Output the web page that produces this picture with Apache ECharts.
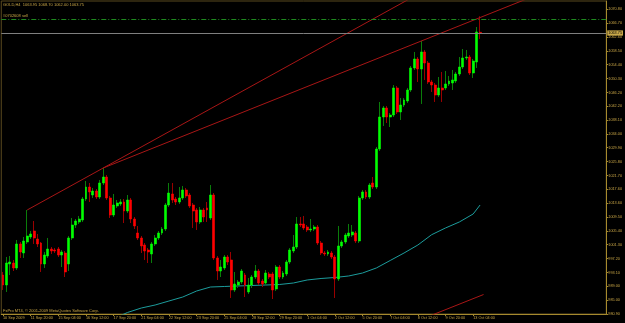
<!DOCTYPE html>
<html><head><meta charset="utf-8">
<script src="https://cdn.jsdelivr.net/npm/echarts@6/dist/echarts.min.js"></script>
<style>html,body{margin:0;padding:0;background:#000;}#c{width:625px;height:323px;}</style>
</head><body><div id="c"></div>
<script>
// ---- data (GOLD, H4) ----
const opens = [992.36,989.41,995.61,995.90,994.43,1001.51,998.85,1002.10,1003.57,1005.34,
1002.98,1001.80,995.61,997.97,1000.03,999.74,1000.03,998.26,998.85,995.61,
1003.28,1007.11,1008.00,1008.59,1014.78,1018.32,1015.96,1017.14,1015.37,1019.50,
1021.27,1015.08,1010.06,1012.72,1013.31,1013.90,1011.24,1014.49,1008.88,1004.75,
1003.28,1001.21,999.74,998.56,1001.51,1003.28,1004.75,1005.93,1013.01,1016.26,
1014.78,1013.90,1015.08,1017.44,1015.96,1013.01,1011.54,1008.00,1011.54,1012.13,
1009.18,1015.96,997.38,993.54,994.43,997.67,996.79,987.94,989.41,990.30,
992.36,987.35,989.41,991.77,993.54,990.59,990.00,992.66,992.66,988.23,
994.72,991.77,992.66,996.20,999.44,1000.62,1007.41,1007.41,1006.52,1005.64,
1005.93,1006.52,1001.80,998.85,998.56,998.85,997.67,991.18,1000.92,1002.10,
1003.87,1004.16,1004.75,1002.39,1015.08,1016.85,1015.37,1019.50,1018.32,1029.53,
1038.97,1041.63,1038.97,1039.56,1047.53,1040.45,1042.51,1043.69,1046.94,1053.43,
1056.08,1053.13,1058.15,1054.90,1049.30,1048.41,1045.46,1047.53,1047.53,1048.71,
1049.00,1049.59,1051.66,1053.72,1056.38,1056.67,1051.95,1055.20,1063.95];
const highs = [993.25,997.67,997.97,996.79,1002.69,1002.10,1003.57,1011.54,1005.34,1008.29,
1004.46,1002.10,999.15,1003.28,1000.62,1000.33,1000.62,999.74,999.44,1003.87,
1009.18,1008.88,1009.77,1015.37,1020.09,1019.50,1018.03,1017.73,1020.39,1023.93,
1021.86,1015.67,1016.26,1014.49,1014.78,1014.78,1015.96,1015.08,1009.47,1006.82,
1003.87,1001.80,1000.33,1002.10,1004.16,1005.34,1006.52,1013.60,1019.50,1019.50,
1015.37,1018.32,1018.62,1018.03,1016.55,1013.60,1012.13,1012.42,1012.13,1013.90,
1018.91,1016.55,997.97,996.79,998.26,998.26,999.15,993.25,990.89,994.13,
992.95,991.48,992.36,995.31,994.13,991.18,993.84,993.25,993.25,995.31,
995.31,993.54,996.79,1000.33,1004.16,1009.47,1009.47,1009.77,1007.11,1008.88,
1007.11,1007.11,1002.39,999.44,999.74,999.44,998.26,1006.82,1002.69,1004.75,
1007.41,1007.11,1005.34,1015.67,1017.44,1017.44,1019.50,1021.27,1030.12,1043.40,
1042.22,1042.22,1040.15,1048.41,1048.12,1044.58,1044.58,1047.53,1054.02,1058.15,
1056.67,1061.39,1058.74,1055.49,1049.89,1049.00,1050.77,1052.25,1052.54,1051.07,
1052.84,1052.25,1056.67,1059.03,1058.74,1057.26,1056.08,1065.52,1068.70];
const lows = [987.94,987.35,992.36,993.54,993.84,997.38,997.38,1001.51,1002.98,1001.51,
1000.62,993.25,994.43,997.38,998.56,998.85,997.67,994.72,991.77,993.54,
1002.69,1006.23,1007.41,1008.00,1014.19,1013.90,1015.08,1014.78,1014.78,1018.91,
1014.49,1009.18,1009.47,1012.13,1012.72,1007.70,1010.65,1007.70,1005.93,1002.69,
998.85,996.79,995.90,995.90,1000.92,1002.69,1004.16,1005.34,1012.42,1013.60,
1013.01,1013.31,1014.49,1015.08,1012.13,1006.23,1005.64,1007.41,1008.00,1008.00,
1008.59,996.79,990.89,991.77,993.84,995.31,985.58,987.35,988.53,989.71,
985.87,986.76,988.53,991.18,989.41,988.82,989.41,991.18,985.28,987.64,
991.18,991.18,992.07,995.61,998.85,1000.03,1006.52,1005.64,1005.05,1005.05,
1005.34,1001.21,998.26,997.97,997.97,997.08,985.58,990.59,1000.33,1001.51,
1003.28,1003.57,1001.80,1001.80,1014.49,1014.78,1014.78,1017.73,1017.73,1028.94,
1036.32,1037.20,1036.02,1038.97,1039.86,1038.09,1041.92,1043.10,1046.35,1052.84,
1049.30,1042.81,1049.89,1048.71,1046.35,1043.40,1044.87,1043.40,1046.94,1048.12,
1046.94,1049.00,1051.07,1053.13,1055.79,1051.36,1050.48,1053.43,1062.00];
const closes = [989.41,995.90,996.20,994.43,1001.51,999.15,1002.39,1003.87,1004.46,1003.28,
1001.51,995.61,998.26,1000.03,999.44,999.44,998.26,999.15,993.25,1003.28,
1007.11,1008.29,1008.88,1014.78,1018.32,1016.85,1017.14,1015.37,1019.50,1021.27,
1015.08,1010.06,1013.01,1013.60,1013.90,1011.24,1014.49,1008.88,1006.82,1003.28,
1000.92,999.44,999.15,1001.51,1003.28,1004.75,1005.93,1013.01,1016.55,1014.49,
1013.90,1015.08,1017.44,1015.67,1012.72,1011.24,1008.00,1011.54,1009.47,1011.54,
1015.96,997.38,993.54,994.72,997.67,996.20,987.94,989.71,990.30,993.54,
989.41,989.41,991.77,993.54,990.00,989.71,992.95,991.77,987.94,994.72,
991.77,992.95,996.20,999.74,1000.62,1007.41,1007.11,1006.23,1005.64,1005.93,
1006.52,1001.80,998.85,998.56,999.15,997.67,991.18,1000.92,1002.10,1004.16,
1004.75,1005.05,1002.39,1015.08,1016.85,1015.37,1018.91,1018.32,1029.53,1038.97,
1041.63,1038.97,1039.56,1047.53,1040.45,1042.51,1043.99,1046.94,1053.43,1056.08,
1053.13,1058.15,1054.90,1049.30,1048.41,1045.46,1047.53,1046.94,1048.71,1049.59,
1049.89,1051.66,1053.72,1056.38,1056.67,1051.95,1055.49,1064.05,1063.75];

// moving average line, points [bar index, price]
const maPoints = [[32,979.5],[36,981.3],[40,982.62],[44,983.51],[48,984.69],[52,985.87],
[56,987.64],[60,988.82],[64,988.97],[68,989.12],[72,989.26],[76,989.41],[80,989.56],
[84,990.0],[88,990.89],[92,991.33],[96,991.62],[100,992.07],[104,992.95],[108,994.43],
[112,996.64],[116,998.85],[120,1001.21],[124,1004.25],[128,1006.23],[132,1008.0],
[136,1010.36],[138,1013.01]];

// drawn trend lines [bar index, price]
const trendLine1 = [[7,1011.54],[120,1075.18]];
const trendLine2 = [[29,1023.93],[160,1077.27]];
const channelLine = [[122,979.7],[139,986.6]];

const xTickLabels = ['10 Sep 2009','11 Sep 20:00','15 Sep 04:00','16 Sep 12:00','17 Sep 20:00',
'21 Sep 04:00','22 Sep 12:00','23 Sep 20:00','25 Sep 04:00','28 Sep 12:00','29 Sep 20:00',
'1 Oct 04:00','2 Oct 12:00','5 Oct 20:00','7 Oct 04:00','8 Oct 12:00','9 Oct 20:00','13 Oct 04:00'];
const yTickValues = [980.90,985.00,989.00,993.10,997.20,1001.30,1005.40,1009.50,1013.60,1017.60,
1021.70,1025.80,1029.90,1034.00,1038.10,1042.20,1046.20,1050.30,1054.40,1058.50,1062.60,1066.70,1070.80];

const bidPrice = 1063.75;
const orderPrice = 1067.88;
const headerText = 'GOLD,H4  1063.95 1068.70 1062.00 1063.75';
const orderText = '#0702608 sell';
const copyrightText = 'FxPro MT4, \u00a9 2001-2009 MetaQuotes Software Corp.';

const SLOTS = 175;
const LABEL_EVERY = 8;
const Y_MIN = 980.855, Y_MAX = 1073.19;

// ---- build ----
const categories = Array.from({length: SLOTS}, (_, i) => String(i));
const wickData = opens.map((o, i) => [o, closes[i], lows[i], highs[i]]);
const bodyData = opens.map((o, i) => [o, closes[i], Math.min(o, closes[i]), Math.max(o, closes[i])]);
const showLabel = (i) => i % LABEL_EVERY === 0 && (i / LABEL_EVERY) < xTickLabels.length;

const GOLD = '#c9a646';
const FONT = '"Liberation Sans", Arial, sans-serif';

const chart = echarts.init(document.getElementById('c'), null, {renderer: 'canvas'});
chart.setOption({
  backgroundColor: '#000000',
  animation: false,
  grid: {left: 1, right: 17, top: 1, bottom: 9, show: true, borderColor: '#5a4a1e', borderWidth: 1},
  xAxis: {
    type: 'category', data: categories, boundaryGap: true,
    axisLine: {show: true, lineStyle: {color: '#a68a2e', width: 1}},
    axisTick: {show: true, interval: (i) => showLabel(i), alignWithLabel: true, length: 2, lineStyle: {color: '#a68a2e'}},
    axisLabel: {
      show: true, interval: (i) => showLabel(i), align: 'left', margin: 2,
      fontSize: 3.8, fontFamily: FONT, color: GOLD,
      formatter: (v, i) => xTickLabels[i / LABEL_EVERY] || ''
    },
    splitLine: {show: false}
  },
  yAxis: {
    type: 'value', position: 'right', min: Y_MIN, max: Y_MAX, scale: true,
    axisLine: {show: true, lineStyle: {color: '#a68a2e', width: 1}},
    axisTick: {show: true, customValues: yTickValues, length: 2, lineStyle: {color: '#a68a2e'}},
    axisLabel: {show: true, customValues: yTickValues, margin: 2, fontSize: 3.8, fontFamily: FONT, color: GOLD,
      formatter: (v) => v.toFixed(2)},
    splitLine: {show: false}
  },
  graphic: [
    {type: 'text', left: 3, top: 2.5, z: 100, style: {text: headerText, fill: GOLD, font: '4px ' + FONT}},
    {type: 'text', left: 3, top: 13.5, z: 100, style: {text: orderText, fill: GOLD, font: '4px ' + FONT}},
    {type: 'text', left: 3, top: 308.5, z: 100, style: {text: copyrightText, fill: GOLD, font: '4px ' + FONT}}
  ],
  series: [
    {
      name: 'ma', type: 'line', data: maPoints, symbol: 'none', clip: true,
      lineStyle: {color: '#1c9c9c', width: 1}, z: 1
    },
    {
      name: 'levels', type: 'line', data: [], z: 1,
      markLine: {
        silent: true, symbol: ['none', 'none'], animation: false,
        lineStyle: {color: '#7f7f7f', type: 'solid', width: 1, opacity: 1},
        data: [
          {yAxis: orderPrice, lineStyle: {color: '#1f8a1f', type: [5, 2, 1, 2], width: 1}, label: {show: false}},
          {yAxis: bidPrice, lineStyle: {color: '#7f7f7f', type: 'solid', width: 1},
           label: {show: true, position: 'end', distance: 1, formatter: bidPrice.toFixed(2),
                   backgroundColor: '#c8a84a', color: '#000', fontSize: 3.8, fontFamily: FONT, padding: [0.6, 1]}}
        ]
      }
    },
    {
      name: 'wick', type: 'candlestick', data: wickData, barWidth: 1, clip: true, z: 2,
      itemStyle: {color: '#0a7d0a', color0: '#9a0000', borderColor: '#0a7d0a', borderColor0: '#9a0000', borderWidth: 1}
    },
    {
      name: 'body', type: 'candlestick', data: bodyData, barWidth: 2.4, clip: true, z: 3,
      itemStyle: {color: '#00ff00', color0: '#ff0000', borderColor: '#00ff00', borderColor0: '#ff0000', borderWidth: 0.6}
    },
    {name: 't1', type: 'line', data: trendLine1, symbol: 'none', clip: true, z: 4, lineStyle: {color: '#a81616', width: 1}},
    {name: 't2', type: 'line', data: trendLine2, symbol: 'none', clip: true, z: 4, lineStyle: {color: '#a81616', width: 1}},
    {name: 't3', type: 'line', data: channelLine, symbol: 'none', clip: true, z: 4, lineStyle: {color: '#a81616', width: 1}}
  ]
});
</script>
</body></html>
